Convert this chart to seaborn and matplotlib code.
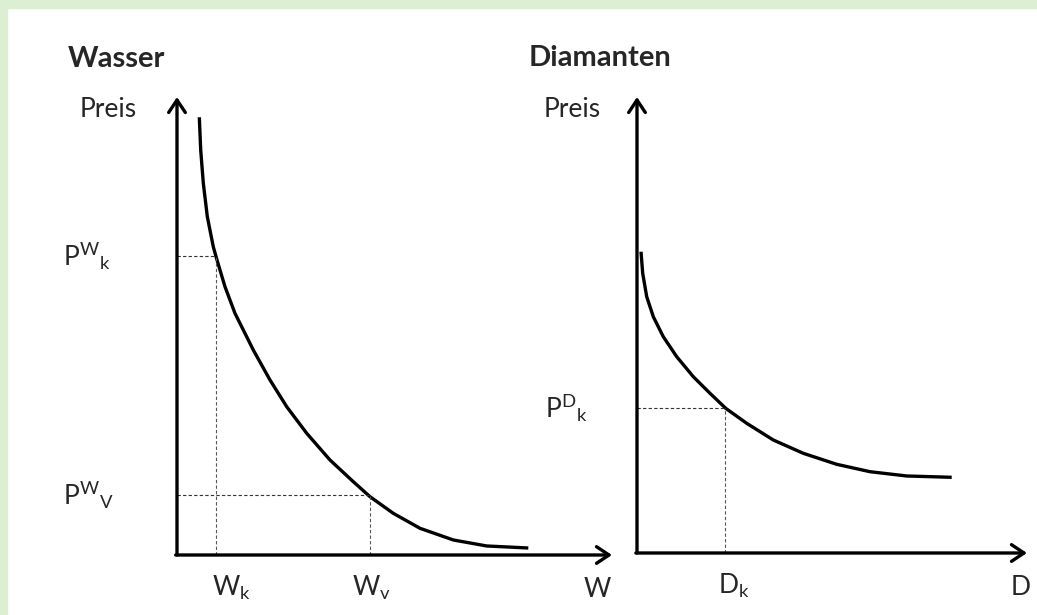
import seaborn as sns
import matplotlib.pyplot as plt
from matplotlib.patches import Rectangle

# Wasser: Nachfragekurve (Menge W, Preis)
wasser_menge = [0.513, 0.545, 0.605, 0.697, 0.834, 0.913, 1.103, 1.333, 1.602, 1.754, 2.138,
                2.522, 2.982, 3.517, 4.053, 4.437, 4.972, 5.586, 6.352, 7.120, 8.076]
wasser_preis = [9.557, 8.843, 8.116, 7.387, 6.731, 6.463, 5.858, 5.277, 4.766, 4.476, 3.821,
                3.238, 2.657, 2.074, 1.600, 1.273, 0.910, 0.583, 0.328, 0.197, 0.153]
wasser_punkt_menge = [0.89, 4.44]
wasser_punkt_preis = [6.53, 1.31]
wasser_menge_labels = [r"$\mathrm{W_k}$", r"$\mathrm{W_v}$"]
wasser_preis_labels = [r"$\mathrm{P^W{}_k}$", r"$\mathrm{P^W{}_V}$"]

# Diamanten: Nachfragekurve (Menge D, Preis)
diamant_menge = [0.103, 0.146, 0.249, 0.418, 0.674, 1.018, 1.444, 1.872, 2.274, 2.813, 3.495,
                 4.264, 5.121, 5.974, 6.915, 8.069]
diamant_preis = [6.607, 6.134, 5.621, 5.182, 4.743, 4.305, 3.866, 3.502, 3.173, 2.844, 2.478,
                 2.186, 1.945, 1.783, 1.689, 1.660]
diamant_punkt_menge = [2.26]
diamant_punkt_preis = [3.18]
diamant_menge_labels = [r"$\mathrm{D_k}$"]
diamant_preis_labels = [r"$\mathrm{P^D{}_k}$"]

sns.set_style("white")
plt.rcParams["font.family"] = ["Lato", "DejaVu Sans"]
plt.rcParams["mathtext.fontset"] = "custom"
plt.rcParams["mathtext.rm"] = "Lato"
plt.rcParams["mathtext.it"] = "Lato:italic"
plt.rcParams["mathtext.bf"] = "Lato:bold"

W, H = 1037, 615
fig = plt.figure(figsize=(W / 100, H / 100), dpi=100)
fig.patch.set_facecolor("white")

green = "#dcefd3"
fig.patches.append(Rectangle((0, 1 - 8 / H), 1, 8 / H, transform=fig.transFigure, color=green, zorder=0))
fig.patches.append(Rectangle((0, 0), 7 / W, 1, transform=fig.transFigure, color=green, zorder=0))


def fx(px):
    return px / W


def fy(py):
    return 1 - py / H


def panel(rect, menge, preis, pm, pp, m_labels, p_labels, m_offsets, p_offset, achse, achse_x, preis_x):
    ax = fig.add_axes(rect)
    ax.set_xlim(0, 10)
    ax.set_ylim(0, 10)
    sns.lineplot(x=menge, y=preis, sort=False, estimator=None, color="black", lw=2.4, ax=ax,
                 solid_joinstyle="round", solid_capstyle="butt")
    for x, y in zip(pm, pp):
        ax.plot([0, x], [y, y], color="#333333", lw=0.8, ls=(0, (3, 2)))
        ax.plot([x, x], [0, y], color="#555555", lw=0.8, ls=(0, (3, 2)))
    for x, lab, off in zip(pm, m_labels, m_offsets):
        ax.annotate(lab, xy=(x, 0), xycoords=("data", "axes fraction"), xytext=(off, -41),
                    textcoords="offset pixels", ha="left", va="baseline", fontsize=19)
    for y, lab in zip(pp, p_labels):
        ax.annotate(lab, xy=(0, y), xycoords=("axes fraction", "data"), xytext=(p_offset, -10),
                    textcoords="offset pixels", ha="left", va="baseline", fontsize=19)
    arrow = dict(arrowstyle="->,head_length=0.45,head_width=0.3", lw=2.4, color="black",
                 shrinkA=0, shrinkB=0, mutation_scale=20)
    ax.annotate("", xy=(0, 1), xytext=(0, 0), xycoords="axes fraction", arrowprops=arrow, annotation_clip=False)
    ax.annotate("", xy=(1, 0), xytext=(-0.003, 0), xycoords="axes fraction", arrowprops=arrow, annotation_clip=False)
    ax.text(achse_x, -42 / (rect[3] * H), achse, transform=ax.transAxes, ha="left", va="baseline", fontsize=19)
    ax.text(preis_x, 0.957, "Preis", transform=ax.transAxes, ha="left", va="baseline", fontsize=19)
    ax.axis("off")
    return ax


panel([fx(177), fy(555), 435 / W, 458 / H], wasser_menge, wasser_preis,
      wasser_punkt_menge, wasser_punkt_preis, wasser_menge_labels, wasser_preis_labels,
      [-4, -18], -114, "W", (584 - 177) / 435, -97 / 435)
panel([fx(637), fy(553), 390 / W, 456 / H], diamant_menge, diamant_preis,
      diamant_punkt_menge, diamant_punkt_preis, diamant_menge_labels, diamant_preis_labels,
      [-7], -92, "D", (1011 - 637) / 390, -93 / 390)

fig.text(fx(68), fy(67), "Wasser", fontsize=21, fontweight="bold", ha="left", va="baseline")
fig.text(fx(529), fy(66), "Diamanten", fontsize=21, fontweight="bold", ha="left", va="baseline")

fig.savefig("out.png", dpi=100)
